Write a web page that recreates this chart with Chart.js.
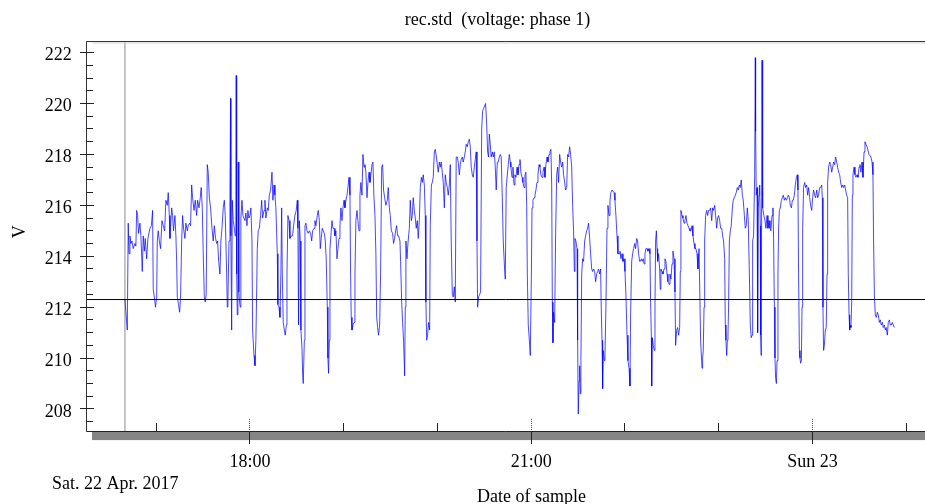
<!DOCTYPE html>
<html>
<head>
<meta charset="utf-8">
<title>rec.std (voltage: phase 1)</title>
<script src="https://cdn.jsdelivr.net/npm/chart.js@4.4.1/dist/chart.umd.min.js"></script>
<style>
  html, body { margin: 0; padding: 0; background: #fff; }
  #wrap { width: 925px; height: 504px; }
</style>
</head>
<body>
<div id="wrap"><canvas id="chart" width="925" height="504"></canvas></div>
<script>
// samples start Sat 22 Apr 2017, 16:40 (minute 1000 of the day)
const startMinute = 1000;
const startLabel = 'Sat. 22 Apr. 2017';

// minutes after 16:40
const sampleMinutes = [
  0.0, 1.5, 2.1, 2.6, 3.2, 3.8, 4.5, 5.3, 6.4, 7.0,
  7.5, 8.1, 8.7, 9.6, 10.2, 11.1, 11.7, 12.4, 13.0, 13.9,
  14.7, 16.0, 16.9, 17.7, 18.1, 19.0, 19.6, 20.3, 20.7, 21.3,
  22.0, 22.8, 23.7, 24.5, 25.4, 26.2, 27.1, 27.7, 28.4, 28.8,
  29.9, 30.5, 31.1, 32.0, 32.6, 33.1, 33.5, 34.3, 35.0, 35.6,
  36.3, 36.9, 37.5, 38.4, 39.0, 39.9, 40.5, 41.4, 42.0, 42.7,
  43.3, 44.2, 45.0, 45.9, 46.5, 47.4, 48.2, 48.8, 49.5, 50.1,
  50.8, 51.4, 52.0, 52.7, 53.3, 54.0, 54.8, 55.7, 56.5, 57.2,
  58.0, 58.7, 59.3, 60.0, 60.8, 61.4, 62.1, 62.9, 63.6, 64.2,
  65.1, 65.5, 65.9, 66.6, 67.2, 67.6, 67.8, 68.3, 68.7, 69.3,
  70.0, 70.6, 71.0, 71.2, 71.5, 71.9, 72.3, 72.5, 72.9, 73.4,
  73.8, 74.2, 74.9, 75.5, 76.1, 76.8, 77.4, 78.1, 78.7, 79.3,
  80.0, 80.6, 81.3, 81.7, 82.6, 83.2, 83.8, 84.3, 84.7, 85.3,
  86.0, 86.8, 87.5, 88.1, 89.0, 89.6, 90.2, 91.1, 91.7, 92.4,
  93.2, 94.1, 94.7, 95.4, 96.0, 96.6, 97.5, 97.9, 98.6, 99.2,
  99.8, 100.3, 100.7, 101.3, 102.0, 102.6, 103.3, 103.7, 104.3, 105.0,
  105.6, 106.5, 107.3, 107.9, 108.8, 109.6, 110.3, 110.7, 111.1, 111.6,
  112.2, 112.6, 113.3, 113.7, 114.1, 114.8, 115.2, 115.8, 116.5, 117.3,
  118.0, 118.8, 119.5, 120.1, 121.0, 121.6, 122.2, 123.1, 123.7, 124.4,
  125.0, 125.6, 126.3, 126.9, 127.6, 128.2, 128.8, 129.5, 129.9, 130.3,
  130.8, 131.2, 131.8, 132.5, 133.1, 133.8, 134.4, 135.0, 135.7, 136.3,
  137.0, 137.6, 138.2, 138.9, 139.5, 140.2, 140.8, 141.4, 142.1, 142.7,
  143.4, 144.0, 144.4, 144.8, 145.3, 145.9, 146.6, 147.2, 147.8, 148.5,
  149.1, 149.8, 150.4, 151.0, 151.7, 152.3, 153.0, 153.6, 154.2, 154.9,
  155.5, 156.2, 156.8, 157.4, 158.1, 158.7, 159.3, 160.0, 160.6, 161.1,
  161.7, 162.3, 163.0, 163.6, 164.3, 164.9, 165.5, 166.2, 167.0, 167.9,
  168.5, 169.2, 169.8, 170.5, 171.3, 171.9, 172.6, 173.2, 173.9, 174.5,
  175.1, 176.0, 176.4, 177.1, 177.7, 178.3, 179.0, 179.4, 179.8, 180.5,
  181.1, 182.0, 182.6, 183.3, 183.9, 184.5, 185.2, 185.8, 186.4, 187.1,
  187.7, 188.4, 189.0, 189.7, 190.3, 190.9, 191.6, 192.2, 192.6, 193.1,
  193.7, 194.3, 195.0, 195.4, 196.1, 196.7, 197.3, 198.0, 198.6, 199.3,
  199.9, 200.5, 201.2, 201.8, 202.4, 203.1, 203.7, 204.4, 205.0, 205.6,
  206.3, 206.9, 207.6, 208.2, 208.8, 209.5, 210.1, 210.8, 211.4, 212.0,
  212.7, 213.3, 214.0, 214.6, 215.2, 215.9, 216.5, 217.2, 217.8, 218.4,
  219.1, 219.7, 220.4, 221.0, 221.6, 222.3, 222.9, 223.6, 224.2, 224.8,
  225.3, 225.7, 226.3, 227.0, 227.6, 228.3, 228.9, 229.5, 230.2, 230.8,
  231.5, 232.1, 232.7, 233.2, 233.8, 234.4, 235.1, 235.7, 236.4, 237.0,
  237.6, 238.3, 238.9, 239.6, 240.2, 240.8, 241.5, 242.1, 242.8, 243.4,
  244.0, 244.7, 245.3, 246.0, 246.6, 247.0, 247.7, 248.3, 249.0, 249.6,
  250.2, 250.9, 251.5, 252.2, 252.8, 253.4, 254.1, 254.7, 255.4, 256.0,
  256.6, 257.1, 257.5, 258.1, 258.8, 259.4, 260.1, 260.5, 261.1, 261.8,
  262.4, 263.0, 263.7, 264.3, 265.0, 265.6, 266.2, 266.9, 267.5, 268.2,
  268.8, 269.4, 270.1, 270.7, 271.4, 272.0, 272.6, 273.1, 273.5, 273.9,
  274.3, 275.0, 275.6, 276.3, 276.9, 277.5, 278.2, 278.8, 279.5, 280.1,
  280.7, 281.4, 282.0, 282.7, 283.3, 283.9, 284.6, 285.2, 285.9, 286.5,
  287.1, 287.6, 288.0, 288.6, 289.3, 289.7, 290.1, 290.6, 291.0, 291.4,
  291.8, 292.3, 292.9, 293.5, 294.2, 294.8, 295.5, 296.1, 296.7, 297.4,
  298.0, 298.7, 299.3, 299.9, 300.6, 301.2, 301.9, 302.5, 303.1, 303.8,
  304.4, 304.8, 305.3, 305.7, 306.1, 306.8, 307.2, 307.8, 308.5, 309.1,
  309.8, 310.4, 311.0, 311.7, 312.3, 313.0, 313.6, 314.2, 314.9, 315.5,
  316.2, 316.8, 317.4, 318.1, 318.7, 319.4, 320.0, 320.6, 321.3, 321.9,
  322.6, 323.2, 323.6, 324.3, 324.9, 325.5, 326.2, 326.8, 327.5, 328.1,
  328.7, 329.4, 329.8, 330.5, 331.1, 331.7, 332.2, 332.8, 333.4, 334.1,
  334.7, 335.4, 336.0, 336.4, 336.9, 337.1, 337.5, 338.1, 338.8, 339.2,
  339.6, 340.1, 340.5, 340.9, 341.5, 342.2, 342.6, 343.0, 343.7, 344.3,
  345.0, 345.6, 346.2, 346.9, 347.5, 348.2, 348.8, 349.4, 350.1, 350.7,
  351.4, 352.0, 352.4, 353.1, 353.7, 354.3, 355.0, 355.4, 355.8, 356.5,
  357.1, 357.8, 358.4, 359.0, 359.7, 360.3, 361.0, 361.6, 362.2, 362.9,
  363.5, 364.2, 364.8, 365.4, 366.1, 366.7, 367.4, 368.0, 368.4, 368.8,
  369.3, 369.7, 370.1, 370.6, 371.0, 371.6, 372.3, 372.9, 373.5, 374.2,
  374.8, 375.5, 376.1, 376.7, 377.4, 378.0, 378.7, 379.3, 379.9, 380.6,
  381.2, 381.9, 382.5, 383.1, 383.8, 384.2, 384.6, 385.1, 385.5, 385.9,
  386.3, 386.8, 387.4, 388.0, 388.7, 389.3, 390.0, 390.6, 391.2, 391.9,
  392.5, 393.2, 393.8, 394.4, 395.1, 395.7, 396.4, 397.0, 397.6, 398.3,
  398.9, 399.6, 400.2, 400.8, 401.3, 401.7, 402.3, 403.0, 403.4, 403.6,
  404.0, 404.5, 404.9, 405.3, 405.8, 406.2, 406.6, 406.8, 407.2, 407.7,
  407.9, 408.3, 408.9, 409.6, 410.2, 410.9, 411.5, 412.2, 412.8, 413.4,
  414.1, 414.7, 415.1, 415.6, 416.0, 416.4, 416.9, 417.3, 417.9, 418.3,
  418.8, 419.4, 420.1, 420.7, 421.3, 422.0, 422.6, 423.3, 423.9, 424.5,
  425.2, 425.8, 426.5, 427.1, 427.7, 428.4, 429.0, 429.7, 430.3, 430.7,
  431.1, 431.6, 432.0, 432.4, 432.9, 433.3, 433.7, 434.3, 435.0, 435.6,
  436.3, 436.9, 437.5, 438.2, 438.8, 439.5, 440.1, 440.7, 441.4, 442.0,
  442.7, 443.3, 443.9, 444.6, 445.2, 445.9, 446.3, 446.7, 447.1, 447.6,
  448.2, 448.8, 449.3, 449.7, 450.3, 451.0, 451.6, 452.3, 452.9, 453.5,
  454.2, 454.8, 455.5, 456.1, 456.7, 457.4, 458.0, 458.7, 459.3, 459.9,
  460.6, 461.2, 461.9, 462.5, 462.9, 463.4, 463.8, 464.2, 464.6, 465.1,
  465.5, 465.9, 466.6, 467.2, 467.8, 468.5, 469.1, 469.8, 470.4, 471.0,
  471.7, 472.3, 473.0, 473.6, 474.2, 474.9, 475.5, 476.2, 476.8, 477.4,
  478.1, 478.7, 479.1, 479.6, 480.2, 480.8, 481.5, 482.1, 482.8, 483.4,
  484.0, 484.7, 485.3, 486.0, 486.6, 487.2, 487.9, 488.5, 489.2, 489.8,
  490.4, 491.1, 491.7, 492.4
];

// volts, phase 1
const phaseVolts = [
  212.3, 211.1, 215.3, 214.1, 214.8, 214.5, 214.6, 214.3, 214.5, 214.4,
  215.8, 215.6, 214.9, 215.3, 214.8, 213.4, 214.8, 214.2, 214.7, 213.9,
  214.7, 215.1, 215.2, 215.8, 212.7, 212.3, 212.0, 212.4, 214.6, 215.0,
  214.6, 214.3, 215.4, 215.2, 215.0, 216.2, 216.0, 216.5, 215.6, 214.7,
  215.9, 215.6, 215.0, 215.6, 214.8, 213.8, 212.4, 212.1, 211.8, 212.4,
  214.6, 215.6, 215.1, 214.7, 215.3, 215.0, 215.2, 215.3, 215.2, 216.8,
  216.3, 215.8, 216.2, 215.6, 216.2, 215.9, 216.3, 216.7, 215.9, 214.1,
  212.4, 212.2, 212.5, 217.6, 217.3, 216.3, 215.9, 215.1, 214.6, 215.2,
  214.7, 214.5, 214.6, 213.8, 213.3, 214.6, 215.1, 215.9, 216.2, 215.6,
  213.3, 212.0, 212.3, 214.6, 216.4, 220.2, 214.8, 211.1, 216.2, 215.4,
  215.1, 214.8, 215.8, 221.1, 213.3, 211.7, 212.0, 217.7, 212.6, 212.2,
  212.0, 215.5, 216.2, 215.6, 215.5, 215.4, 215.7, 215.2, 215.8, 215.5,
  215.6, 215.9, 214.6, 211.1, 210.1, 209.7, 210.7, 212.6, 214.3, 215.0,
  215.1, 215.6, 216.2, 215.5, 215.8, 216.2, 215.5, 215.9, 215.8, 216.4,
  216.6, 217.3, 216.2, 216.8, 216.4, 215.9, 214.1, 212.1, 212.0, 211.6,
  213.3, 215.9, 213.3, 211.4, 211.1, 210.9, 211.3, 213.3, 215.6, 215.4,
  214.7, 214.8, 214.8, 215.2, 215.6, 215.8, 216.2, 215.1, 211.3, 215.4,
  214.6, 211.1, 210.4, 209.4, 209.0, 210.7, 215.2, 215.3, 215.0, 214.9,
  215.0, 214.9, 214.6, 215.0, 215.1, 215.4, 215.2, 215.6, 215.8, 215.4,
  214.3, 214.7, 215.1, 215.0, 214.9, 214.6, 213.9, 212.0, 210.0, 209.4,
  210.7, 214.3, 214.8, 215.4, 215.1, 215.1, 214.8, 215.0, 213.9, 214.3,
  214.7, 215.2, 215.9, 215.4, 215.9, 216.2, 215.9, 216.2, 216.4, 216.7,
  217.1, 216.4, 213.3, 211.6, 211.1, 211.3, 211.4, 213.3, 215.4, 215.8,
  215.4, 215.0, 216.4, 216.9, 216.4, 218.0, 217.5, 217.6, 217.3, 216.3,
  216.9, 217.3, 216.9, 217.2, 217.6, 217.7, 216.4, 215.6, 214.1, 211.6,
  211.2, 210.9, 211.3, 213.3, 217.5, 217.6, 216.6, 216.3, 216.0, 216.2,
  216.7, 215.9, 215.6, 215.0, 214.9, 214.5, 214.7, 215.0, 215.2, 214.8,
  214.8, 214.6, 213.8, 212.2, 211.4, 210.7, 209.3, 212.0, 214.6, 213.9,
  214.5, 215.1, 216.2, 215.4, 215.6, 216.3, 215.8, 215.5, 215.1, 215.4,
  214.7, 215.4, 216.7, 217.1, 216.9, 217.2, 216.8, 215.6, 212.2, 210.7,
  210.9, 211.4, 211.1, 215.2, 216.8, 216.9, 217.1, 218.1, 218.2, 217.9,
  217.6, 217.3, 217.7, 217.5, 217.7, 217.3, 216.9, 215.9, 217.2, 216.9,
  216.7, 216.4, 216.8, 217.6, 214.6, 212.5, 212.4, 212.8, 212.2, 217.9,
  217.9, 217.7, 217.2, 217.6, 217.8, 217.9, 217.7, 217.9, 218.1, 218.4,
  218.3, 218.5, 218.6, 218.3, 217.5, 217.2, 217.1, 217.5, 217.8, 218.1,
  214.6, 212.0, 212.4, 212.5, 212.6, 219.0, 219.7, 219.8, 219.9, 220.0,
  219.2, 218.1, 217.9, 218.8, 218.4, 217.9, 218.1, 217.9, 218.1, 217.5,
  216.6, 217.7, 217.7, 217.9, 218.0, 217.9, 216.3, 214.6, 213.7, 213.1,
  216.7, 217.2, 217.6, 218.0, 217.7, 217.5, 217.1, 217.5, 216.8, 217.2,
  217.1, 217.5, 217.2, 217.6, 217.8, 217.3, 217.1, 216.9, 216.7, 217.2,
  217.3, 216.0, 213.3, 211.3, 210.7, 210.1, 213.3, 215.9, 216.2, 216.3,
  216.4, 216.6, 216.9, 217.2, 217.6, 217.5, 217.2, 217.1, 217.3, 217.5,
  217.1, 217.6, 217.9, 217.7, 218.0, 218.1, 218.2, 216.8, 212.2, 210.6,
  211.8, 211.4, 214.8, 217.2, 217.5, 216.9, 218.0, 217.7, 217.5, 217.7,
  217.2, 216.9, 216.6, 216.7, 218.0, 217.9, 218.3, 218.0, 217.5, 216.0,
  215.0, 213.4, 214.7, 214.6, 214.3, 210.7, 207.8, 209.1, 209.7, 208.6,
  209.9, 213.3, 213.9, 213.8, 214.6, 214.8, 215.0, 215.1, 215.3, 214.7,
  214.1, 213.5, 213.4, 213.5, 213.4, 213.0, 213.3, 213.4, 213.5, 213.3,
  213.5, 212.0, 210.7, 208.8, 210.3, 209.9, 210.1, 212.0, 215.1, 216.0,
  215.6, 216.2, 216.5, 216.6, 216.6, 216.5, 216.2, 215.6, 214.8, 214.1,
  214.1, 214.2, 213.9, 214.1, 213.8, 213.9, 213.4, 212.5, 210.9, 209.9,
  209.6, 208.9, 211.7, 213.8, 214.1, 214.3, 214.5, 214.3, 214.7, 214.6,
  214.1, 213.8, 213.8, 213.9, 213.8, 213.9, 213.7, 214.1, 214.3, 214.3,
  214.2, 214.3, 214.1, 212.2, 210.8, 208.9, 210.8, 210.5, 210.3, 212.0,
  214.6, 215.0, 214.3, 213.8, 214.1, 213.5, 212.7, 213.5, 213.4, 213.3,
  213.5, 213.9, 213.8, 213.3, 213.0, 212.9, 213.3, 213.1, 213.7, 214.2,
  213.9, 212.6, 210.5, 211.1, 211.2, 210.9, 211.2, 213.4, 215.8, 215.6,
  215.5, 215.3, 215.4, 215.6, 215.3, 215.3, 215.1, 215.0, 215.0, 215.2,
  214.8, 214.5, 214.3, 214.3, 214.1, 213.5, 214.3, 214.3, 210.7, 210.2,
  209.6, 210.0, 210.3, 212.0, 214.6, 215.6, 215.8, 215.6, 215.8, 215.8,
  215.9, 215.4, 215.9, 215.8, 216.0, 215.6, 215.1, 215.5, 215.6, 215.4,
  215.1, 215.1, 214.8, 214.6, 213.9, 211.3, 210.7, 210.1, 210.7, 210.9,
  212.0, 214.6, 215.0, 215.2, 215.9, 216.2, 216.3, 216.4, 216.5, 216.7,
  216.6, 216.8, 216.7, 217.0, 216.4, 216.2, 215.6, 215.1, 215.2, 215.9,
  215.4, 213.3, 211.3, 210.8, 210.9, 214.6, 214.8, 217.2, 221.8, 218.9,
  216.4, 216.7, 211.0, 215.9, 216.4, 216.8, 215.2, 210.9, 210.1, 221.7,
  218.5, 215.9, 215.6, 215.4, 215.1, 215.6, 215.1, 215.4, 215.1, 215.0,
  215.6, 215.9, 214.7, 212.0, 210.0, 209.2, 209.0, 209.9, 213.3, 215.1,
  215.8, 215.9, 216.2, 216.3, 216.4, 216.2, 216.3, 216.2, 216.3, 216.4,
  216.3, 216.0, 215.9, 216.2, 216.2, 216.4, 216.8, 217.1, 217.2, 216.6,
  213.3, 210.3, 210.0, 209.8, 209.9, 212.0, 215.1, 216.7, 216.9, 216.7,
  216.8, 216.4, 216.7, 216.3, 216.0, 215.8, 216.3, 216.6, 216.4, 216.3,
  216.6, 216.3, 216.4, 216.7, 216.7, 216.8, 216.3, 212.0, 210.3, 210.5,
  211.1, 211.2, 213.3, 216.9, 217.5, 217.7, 217.6, 217.3, 217.5, 217.7,
  217.6, 217.9, 217.7, 217.5, 217.3, 217.2, 216.9, 216.7, 216.8, 216.7,
  216.8, 216.6, 216.4, 216.3, 213.3, 211.7, 211.1, 211.3, 211.2, 212.2,
  216.4, 217.2, 217.5, 217.2, 217.1, 217.2, 217.1, 217.5, 217.6, 217.3,
  217.7, 217.1, 218.1, 218.5, 218.4, 218.3, 218.3, 218.0, 218.0, 217.9,
  217.7, 217.2, 214.6, 212.5, 211.7, 211.6, 211.8, 211.7, 211.4, 211.5,
  211.3, 211.4, 211.2, 211.3, 211.1, 211.2, 210.9, 211.4, 211.5, 211.3,
  211.3, 211.4, 211.3, 211.2
];

// horizontal reference level (V)
const referenceVolts = 212.3;

// hour ticks (minute of day) and the ones carrying a label
const hourTicks = [1020, 1080, 1140, 1200, 1260, 1320, 1380, 1440, 1500];
const labelledTicks = [1080, 1260, 1440];
const labelledTickText = ['18:00', '21:00', 'Sun 23'];

// y labels
const voltTicks = [208, 210, 212, 214, 216, 218, 220, 222];

const xMin = 975.4, xMax = 1512;
const yMin = 207.116, yMax = 222.436;

const series = sampleMinutes.map((m, i) => ({ x: startMinute + m, y: phaseVolts[i] }));

const FONT = '18px "Liberation Serif", "Times New Roman", serif';

function crisp(v) {
    return Math.round(v - 0.5) + 0.5;
}

const framePlugin = {
    id: 'framePlugin',
    afterDraw(chart) {
        const {ctx, chartArea: a, scales: {x, y}} = chart;
        const line = (x1, y1, x2, y2) => {
            ctx.beginPath();
            ctx.moveTo(x1, y1);
            ctx.lineTo(x2, y2);
            ctx.stroke();
        };
        ctx.save();
        ctx.lineWidth = 1;

        // frame: top, left
        ctx.strokeStyle = '#d4d4d4';
        line(a.left + 6, a.top + 1.5, a.right, a.top + 1.5);
        ctx.strokeStyle = '#333';
        line(a.left, a.top, a.right, a.top);
        line(a.left, a.top, a.left, a.bottom);

        // bottom axis with its grey shadow bar
        ctx.fillStyle = '#858585';
        ctx.fillRect(a.left + 5.5, a.bottom, a.right - a.left - 5.5, 8.6);
        ctx.strokeStyle = '#222';
        line(a.left, a.bottom, a.right, a.bottom);

        // y ticks: minor every 0.5 V inside, labelled ones cross the axis
        ctx.strokeStyle = '#222';
        for (let v = 207.5; v <= yMax; v += 0.5) {
            const py = crisp(y.getPixelForValue(v));
            if (voltTicks.includes(v)) {
                line(a.left - 6.5, py, a.left + 7.5, py);
            } else {
                line(a.left, py, a.left + 6.5, py);
            }
        }

        // x ticks
        hourTicks.forEach(h => {
            const px = crisp(x.getPixelForValue(h));
            if (labelledTicks.includes(h)) {
                ctx.strokeStyle = '#555';
                ctx.setLineDash([1, 1]);
                line(px, a.bottom - 12.5, px, a.bottom);
                ctx.setLineDash([]);
                ctx.strokeStyle = '#222';
                line(px, a.bottom, px, a.bottom + 12.5);
            } else {
                ctx.strokeStyle = '#222';
                line(px, a.bottom - 8.5, px, a.bottom);
            }
        });

        // texts
        ctx.fillStyle = '#000';
        ctx.font = FONT;
        ctx.textBaseline = 'alphabetic';

        ctx.textAlign = 'right';
        voltTicks.forEach(v => {
            ctx.fillText(String(v), a.left - 14.8, y.getPixelForValue(v) + 7.7);
        });

        ctx.textAlign = 'center';
        labelledTicks.forEach((h, i) => {
            ctx.fillText(labelledTickText[i], x.getPixelForValue(h), a.bottom + 35.2);
        });

        ctx.fillText('rec.std  (voltage: phase 1)', 497.5, 25);
        ctx.fillText('Date of sample', 531.5, a.bottom + 70.2);

        ctx.textAlign = 'left';
        ctx.fillText(startLabel, 52, a.bottom + 57);

        ctx.save();
        ctx.translate(25, (a.top + a.bottom) / 2 - 4.8);
        ctx.rotate(-Math.PI / 2);
        ctx.textAlign = 'center';
        ctx.fillText('V', 0, 0);
        ctx.restore();

        ctx.restore();
    }
};

new Chart(document.getElementById('chart'), {
    type: 'line',
    data: {
        datasets: [
            {
                label: 'reference',
                data: [{x: xMin, y: referenceVolts}, {x: xMax, y: referenceVolts}],
                borderColor: '#000',
                borderWidth: 1,
                pointRadius: 0
            },
            {
                label: 'voltage: phase 1',
                data: series,
                borderColor: 'rgba(0, 0, 255, 0.8)',
                borderWidth: 0.9,
                pointRadius: 0,
                tension: 0
            },
            {
                label: 'start',
                data: [{x: startMinute, y: yMin}, {x: startMinute, y: yMax}],
                borderColor: '#8c8c8c',
                borderWidth: 1,
                pointRadius: 0
            }
        ]
    },
    options: {
        responsive: false,
        animation: false,
        devicePixelRatio: 1,
        events: [],
        layout: {
            padding: {left: 86.5, top: 41.5, right: 0, bottom: 72.5}
        },
        plugins: {
            legend: {display: false},
            tooltip: {enabled: false},
            title: {display: false}
        },
        scales: {
            x: {
                type: 'linear',
                min: xMin,
                max: xMax,
                display: false
            },
            y: {
                type: 'linear',
                min: yMin,
                max: yMax,
                display: false
            }
        }
    },
    plugins: [framePlugin]
});
</script>
</body>
</html>
